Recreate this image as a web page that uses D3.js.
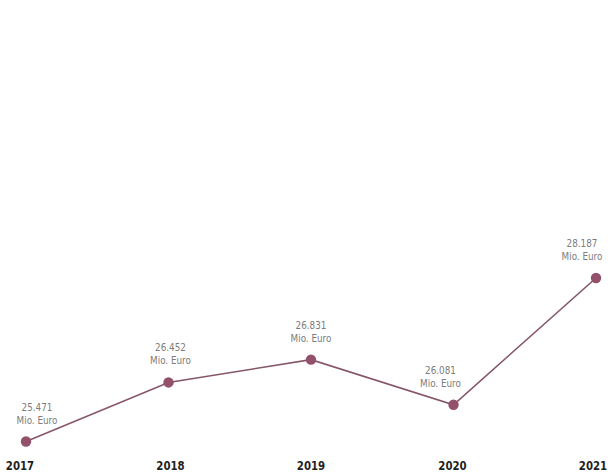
<!DOCTYPE html>
<html>
<head>
<meta charset="utf-8">
<script src="https://cdn.jsdelivr.net/npm/d3@7"></script>
<style>
  html, body { margin: 0; padding: 0; background: #fff; }
  svg { display: block; }
  .val { font-family: "DejaVu Sans", sans-serif; fill: #7c7c7c; font-size: 11px; }
  .yr { font-family: "DejaVu Sans", sans-serif; font-weight: bold; fill: #1e1e1e; font-size: 12px; }
</style>
</head>
<body>
<svg id="chart" width="608" height="473"></svg>
<script>
// Data
const years = ["2017", "2018", "2019", "2020", "2021"];
const values = [25471, 26452, 26831, 26081, 28187];
const unitLabel = "Mio. Euro";

const svg = d3.select("#chart");

const x = d3.scalePoint().domain(years).range([26, 596]);
const y = d3.scaleLinear().domain([25471, 28187]).range([441.5, 278]);

const fmt = v => d3.format(",")(v).replace(/,/g, ".");

const data = years.map((yr, i) => ({ yr, v: values[i] }));

// line
svg.append("path")
  .datum(data)
  .attr("fill", "none")
  .attr("stroke", "#86566a")
  .attr("stroke-width", 1.6)
  .attr("d", d3.line().x(d => x(d.yr)).y(d => y(d.v)));

// dots
svg.selectAll("circle.dot").data(data).enter().append("circle")
  .attr("class", "dot")
  .attr("cx", d => x(d.yr))
  .attr("cy", d => y(d.v))
  .attr("r", 5.2)
  .attr("fill", "#93506a");

// value labels (style offsets per position)
const labelDx = { "2017": 11, "2018": 2, "2019": 0, "2020": -13, "2021": -14 };
const lbl = svg.selectAll("g.lbl").data(data).enter().append("g")
  .attr("class", "lbl")
  .attr("transform", d => `translate(${x(d.yr) + labelDx[d.yr]},${y(d.v)})`);
lbl.append("text").attr("class", "val").attr("text-anchor", "middle")
  .attr("transform", "translate(0,-31) scale(0.8,1)").text(d => fmt(d.v));
lbl.append("text").attr("class", "val").attr("text-anchor", "middle")
  .attr("transform", "translate(0,-18) scale(0.8,1)").text(unitLabel);

// x axis labels
const yrDx = { "2017": -6, "2018": 2, "2019": 0, "2020": -1, "2021": -3 };
svg.selectAll("text.yr").data(years).enter().append("text")
  .attr("class", "yr")
  .attr("text-anchor", "middle")
  .attr("transform", d => `translate(${x(d) + yrDx[d]},470) scale(0.85,1)`)
  .text(d => d);
</script>
</body>
</html>
